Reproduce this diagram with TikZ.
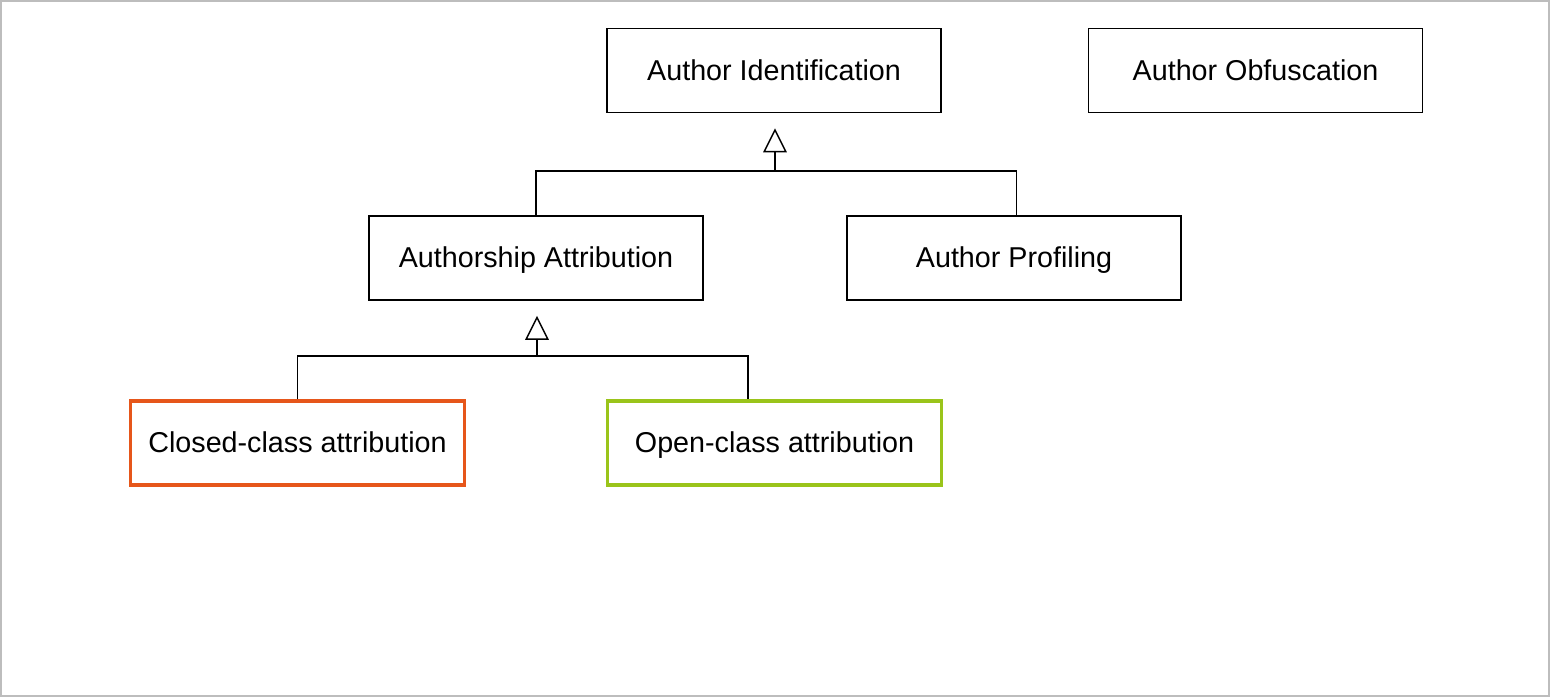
\documentclass[tikz,border=0pt]{standalone}
\usepackage{fontspec}
\setmainfont{Liberation Sans}
\usepackage{tikz}
\usepackage{xcolor}
\usetikzlibrary{arrows.meta}
\definecolor{closedorange}{HTML}{E6561A}
\definecolor{opengreen}{HTML}{9AC41A}
\definecolor{framegray}{HTML}{BDBDBD}
\tikzset{
    task-box/.style = {draw=black, fill=white, line width=0.75pt, rectangle, minimum width=167pt, minimum height=42pt, text height=10.3pt, text depth=0.5pt, font=\fontsize{14.35}{17}\selectfont},
    closed-box/.style = {task-box, draw=closedorange, line width=1.75pt},
    open-box/.style = {task-box, draw=opengreen, line width=1.75pt},
    link/.style = {draw=black, line width=0.75pt},
    inherit/.style = {link, -{Triangle[open, width=11.75pt, length=12pt]}, shorten >=7.5pt},
}

\begin{document}
\begin{tikzpicture}[x=0.5pt, y=-0.5pt]
\useasboundingbox (0,0) rectangle (1550,697);
\draw[framegray, line width=1pt] (1,1) rectangle (1548.5,696);

\node [task-box] (ai) at (774,70.5) {Author Identification};
\node [task-box] (ao) at (1255.5,70.5) {Author Obfuscation};
\node [task-box] (aa) at (536,258) {Authorship Attribution};
\node [task-box] (ap) at (1014,258) {Author Profiling};
\node [closed-box] (cc) at (297.5,443) {Closed-class attribution};
\node [open-box] (oc) at (774.5,443) {Open-class attribution};

% upper level
\coordinate (top-join) at (775,171);
\draw [link] (aa.north) |- (top-join) -| ([xshift=1.25pt]ap.north);
\draw [inherit] (top-join) -- (ai.south -| top-join);

% lower level
\coordinate (low-join) at (537,356);
\draw [link] (cc.north) |- (low-join) -| ([xshift=-13.25pt]oc.north);
\draw [inherit] (low-join) -- (aa.south -| low-join);
\end{tikzpicture}
\end{document}
